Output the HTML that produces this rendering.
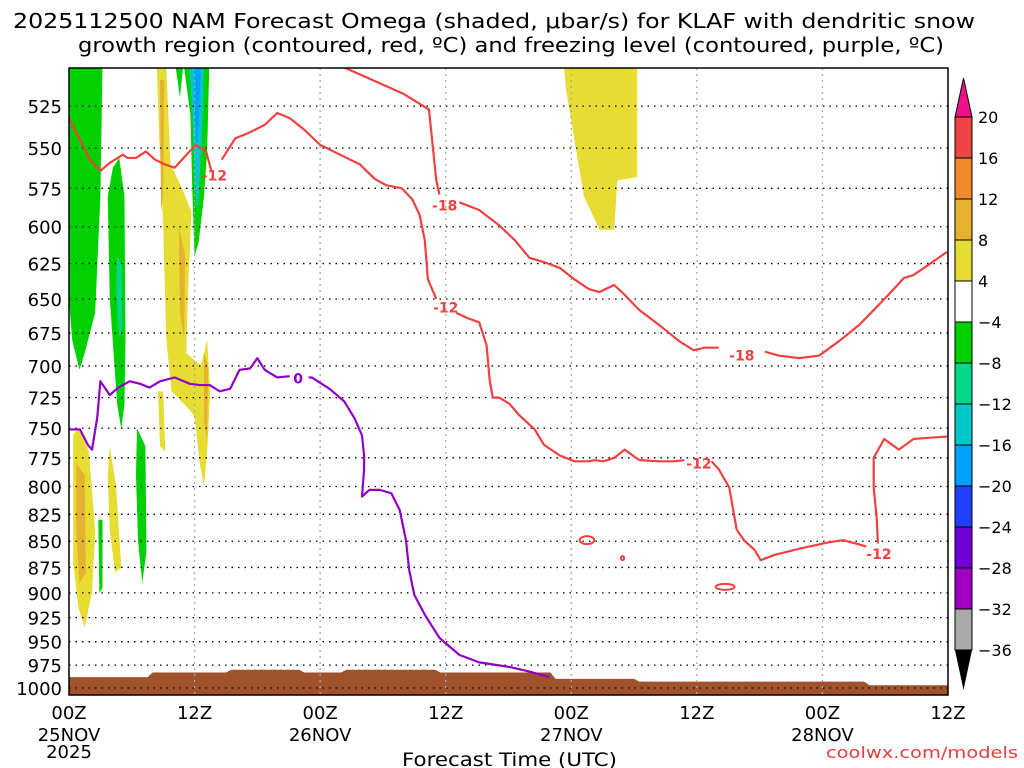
<!DOCTYPE html>
<html><head><meta charset="utf-8"><style>
body{margin:0;background:#fff;}
svg{display:block;font-family:"DejaVu Sans","Liberation Sans",sans-serif;}
</style></head><body>
<svg id="chart" width="1024" height="768" viewBox="0 0 1024 768" xmlns="http://www.w3.org/2000/svg">
<text x="13" y="28" font-size="20" textLength="962" lengthAdjust="spacingAndGlyphs" fill="#000">2025112500 NAM Forecast Omega (shaded, μbar/s) for KLAF with dendritic snow</text>
<text x="78" y="52" font-size="20" textLength="866" lengthAdjust="spacingAndGlyphs" fill="#000">growth region (contoured, red, ºC) and freezing level (contoured, purple, ºC)</text>
<g id="shade"></g>
<g id="grid"></g>
<g id="lines"></g>
<g id="axes"></g>
<g id="cbar"></g>
<text x="402" y="766" font-size="19" textLength="215" lengthAdjust="spacingAndGlyphs">Forecast Time (UTC)</text>
<text x="826" y="758" font-size="16" textLength="192" lengthAdjust="spacingAndGlyphs" fill="#e04040">coolwx.com/models</text>
</svg>
<script>
const pressureTicks=[525,550,575,600,625,650,675,700,725,750,775,800,825,850,875,900,925,950,975,1000];
const hourTicks=[0,12,24,36,48,60,72,84];
const hourLabels=["00Z","12Z","00Z","12Z","00Z","12Z","00Z","12Z"];
const dateLabels=["25NOV","","26NOV","","27NOV","","28NOV",""];
const cbarLevels=["20","16","12","8","4","-4","-8","-12","-16","-20","-24","-28","-32","-36"];
const cbarColors=["#f24444","#f08a2c","#e6b030","#e6dc32","#ffffff","#00d000","#00d88c","#00c8c8","#00a0ff","#2040ff","#7000d8","#a000c0","#aaaaaa"];
const red12a=[[0,532],[2,557],[3,564],[3.9,559],[5.15,554],[5.6,556],[6.4,556],[7.35,552],[8.2,557],[9.15,560],[10.1,562],[12.1,548],[13.1,552],[13.6,564]];
const red12b=[[14.6,557],[15.9,544],[17.1,541],[18.7,536],[19.9,529],[21.1,532],[22.5,539],[24,548],[25.9,554],[27.8,560],[29.2,569],[30.3,573],[31.8,575],[32.8,582],[33.5,592],[34,609],[34.3,636],[35.1,650]];
const red12c=[[37,660],[38.1,664],[39.2,667],[39.9,684],[40.2,711],[40.5,725],[41.1,725],[42.1,730],[43,739],[44.5,751],[45.4,764],[46.9,773],[48.3,778],[49.7,778],[50.2,777],[51.1,778],[52.1,775],[53.1,768],[54.5,777],[56.4,778],[57.8,778],[58.8,777]];
const red12d=[[61.4,778],[62.1,785],[63.1,801],[63.8,839],[64.5,849],[65.5,858],[66.1,868],[67.4,863],[69.8,857],[72.6,851],[74,849],[75.5,853],[76.2,855]];
const red12e=[[77.3,852],[77.2,830],[76.9,801],[76.9,775],[77.9,759],[79.3,768],[80.7,759],[82.1,758],[83.9,757]];
const red18a=[[26.3,503],[29,510],[32,518],[34.4,527],[35.1,570],[35.4,579]];
const red18b=[[37.3,584],[39.2,589],[41.1,599],[42.6,609],[44,621],[45.4,624],[46.9,628],[48.3,636],[49.7,643],[50.7,645],[52.1,640],[53.1,647],[54.5,658],[56.4,669],[58.3,681],[59.7,688],[60.7,686],[62.1,686]];
const red18c=[[66.5,689],[67.8,692],[69.8,694],[71.7,692],[73.6,681],[75.5,669],[76.9,658],[78.3,647],[79.8,635],[80.7,633],[82.1,626],[83.9,617]];
const redLoops=[[49.5,849,0.7,4],[52.9,866,0.15,2],[62.7,894,0.9,3]];
const purpleA=[[0,751],[1.05,751],[1.8,764],[2.2,768],[2.7,741],[3,712],[3.9,723],[4.7,717],[5.8,712],[6.8,714],[7.7,717],[8.7,712],[10.1,709],[11.55,714],[12.5,715],[13.45,715],[14.4,720],[15.4,718],[16.3,703],[17.3,702],[18,694],[18.7,703],[19.9,709],[21.1,708]];
const purpleB=[[22.9,709],[23.2,709],[24.9,718],[26.3,728],[27.3,742],[28,756],[28.2,773],[28.2,785],[28,809],[28.7,803],[29.7,803],[30.8,806],[31.6,821],[32.2,849],[32.5,877],[33,902],[34,922],[35.4,946],[37.3,964],[39.2,972],[42.1,977],[44,982],[45.9,988]];
const labels=[["-12",13.9,567,"#f04040"],["-12",36,656,"#f04040"],["-12",60.2,780,"#f04040"],["-12",77.4,862,"#f04040"],["-18",35.9,586,"#f04040"],["-18",64.3,692,"#f04040"],["0",21.9,710,"#9000c8"]];
const terrainHours=[0,7.5,8,15,15.5,22,22.5,26,26.5,35,35.5,46,46.5,54,54.5,76,76.5,84];
const terrainP=[988,988,983,983,980,980,983,983,980,980,983,983,990,990,993,993,997,997];
const blobs=[
["#00d000",[[0,503],[3.2,503],[3,580],[2.5,660],[1.5,690],[1,703],[0.3,680],[0,650]]],
["#00d000",[[4.2,562],[4.8,556],[5.3,580],[5.4,680],[5.3,730],[5,751],[4.6,730],[3.9,650],[3.7,580]]],
["#00d88c",[[4.6,620],[5,625],[5.1,670],[4.8,680],[4.5,640]]],
["#00d000",[[10.2,503],[10.9,503],[10.6,520]]],
["#00d000",[[11,503],[13.4,503],[13.2,552],[12.9,580],[12.4,610],[12,620],[11.8,580],[11.6,530]]],
["#00c8c8",[[11.5,503],[12.9,503],[12.7,545],[12.3,590],[12,570],[11.8,530]]],
["#00a0ff",[[12,503],[12.6,503],[12.4,535],[12.2,550],[12,530]]],
["#e6dc32",[[8.4,503],[9.3,503],[9.7,560],[10.8,575],[11.7,590],[11.4,640],[11.2,690],[12.6,700],[13.2,680],[13.5,720],[13.2,770],[12.9,800],[12.5,780],[12,740],[11,730],[9.8,720],[9.3,680],[9,600],[8.6,540]]],
["#e6dc32",[[8.5,720],[9,720],[9.2,770],[8.7,765]]],
["#e6b030",[[8.7,510],[9.1,510],[9.0,580],[8.8,590]]],
["#e6b030",[[10.5,600],[11.1,620],[11,680],[10.6,660]]],
["#e6b030",[[12.9,690],[13.3,700],[13.2,760],[12.9,745]]],
["#e6dc32",[[0.4,755],[1,750],[1.9,770],[2.5,840],[2.2,900],[1.5,935],[0.9,915],[0.4,870]]],
["#e6b030",[[0.7,780],[1.5,790],[1.6,880],[1,890],[0.7,840]]],
["#e6dc32",[[3.9,765],[4.5,800],[5,875],[4.4,880],[3.9,840],[3.7,790]]],
["#00d000",[[6.5,750],[7.3,765],[7.4,860],[7,890],[6.6,850],[6.4,790]]],
["#00d000",[[2.8,830],[3.2,830],[3.2,895],[2.9,900]]],
["#e6dc32",[[47.3,503],[54.3,503],[54.3,568],[52.4,570],[52.1,602],[50.7,602],[49.2,580],[48.3,545],[47.5,515]]]
];
const L=69,R=948,T=68,B=695;
const xs=h=>L+h*(R-L)/84;
const ys=p=>688-903*Math.log(1000/p);
const NS="http://www.w3.org/2000/svg";
function mk(tag,parent,attrs){const e=document.createElementNS(NS,tag);for(const k in attrs)e.setAttribute(k,attrs[k]);parent.appendChild(e);return e;}
const shade=document.getElementById('shade'),grid=document.getElementById('grid'),lines=document.getElementById('lines'),axes=document.getElementById('axes'),cbar=document.getElementById('cbar');
const cp=mk('clipPath',document.getElementById('chart'),{id:'pc'});mk('rect',cp,{x:L,y:T,width:R-L,height:B-T});
shade.setAttribute('clip-path','url(#pc)');lines.setAttribute('clip-path','url(#pc)');
blobs.forEach((b,i)=>{const e=mk('polygon',shade,{points:b[1].map(q=>xs(q[0])+','+ys(q[1])).join(' '),fill:b[0]});

});
let td='M'+xs(terrainHours[0])+','+B;terrainHours.forEach((h,i)=>{td+=' L'+xs(h)+','+ys(terrainP[i]);});td+=' L'+xs(84)+','+B+' Z';
const ter=mk('path',shade,{d:td,fill:'#a0522d'});


pressureTicks.forEach(p=>{const l=mk('line',grid,{x1:L,x2:R,y1:ys(p),y2:ys(p),stroke:'#000','stroke-width':1.3,'stroke-dasharray':'1.5,5'});


const t=mk('text',axes,{x:62,y:ys(p)+7,'text-anchor':'end','font-size':18});t.textContent=p;

});
hourTicks.forEach((h,i)=>{if(i>0&&i<hourTicks.length-1){const l=mk('line',grid,{x1:xs(h),x2:xs(h),y1:T,y2:B,stroke:'#aaa','stroke-width':1.3,'stroke-dasharray':'2,4'});

}
const t=mk('text',axes,{x:xs(h),y:719,'text-anchor':'middle','font-size':18});t.textContent=hourLabels[i];


if(dateLabels[i]){const d=mk('text',axes,{x:xs(h),y:741,'text-anchor':'middle','font-size':18});d.textContent=dateLabels[i];

}});
const yr=mk('text',axes,{x:xs(0),y:758,'text-anchor':'middle','font-size':18});yr.textContent='2025';


const fr=mk('rect',axes,{x:L,y:T,width:R-L,height:B-T,fill:'none',stroke:'#000','stroke-width':1.5});


function line(pts,col,name){const e=mk('polyline',lines,{points:pts.map(q=>xs(q[0])+','+ys(q[1])).join(' '),fill:'none',stroke:col,'stroke-width':2.2,'stroke-linejoin':'round'});

}
[red12a,red12b,red12c,red12d,red12e].forEach(s=>line(s,'#f04040','dgz-minus12-contour'));
[red18a,red18b,red18c].forEach(s=>line(s,'#f04040','dgz-minus18-contour'));
[purpleA,purpleB].forEach(s=>line(s,'#9000c8','freezing-level-contour'));
redLoops.forEach(r=>{const e=mk('ellipse',lines,{cx:xs(r[0]),cy:ys(r[1]),rx:r[2]*(R-L)/84,ry:r[3],fill:'none',stroke:'#f04040','stroke-width':2});

});
labels.forEach(l=>{const t=mk('text',lines,{x:xs(l[1]),y:ys(l[2])+5,'text-anchor':'middle','font-size':14,'font-weight':'bold',fill:l[3]});t.textContent=l[0];

});
const cx0=955,cx1=972,cy0=117,ch=41;
const tri=mk('polygon',cbar,{points:`${cx0},${cy0} ${cx1},${cy0} ${(cx0+cx1)/2},78`,fill:'#f0108a',stroke:'#000'});


cbarColors.forEach((c,i)=>{const r=mk('rect',cbar,{x:cx0,y:cy0+i*ch,width:cx1-cx0,height:ch,fill:c,stroke:'#000','stroke-width':1});

});
const yb=cy0+cbarColors.length*ch;
const tri2=mk('polygon',cbar,{points:`${cx0},${yb} ${cx1},${yb} ${(cx0+cx1)/2},690`,fill:'#000'});


cbarLevels.forEach((s,i)=>{const t=mk('text',cbar,{x:978,y:cy0+i*ch+6,'font-size':16});t.textContent=s.replace('-','−');

});
</script>
</body></html>
